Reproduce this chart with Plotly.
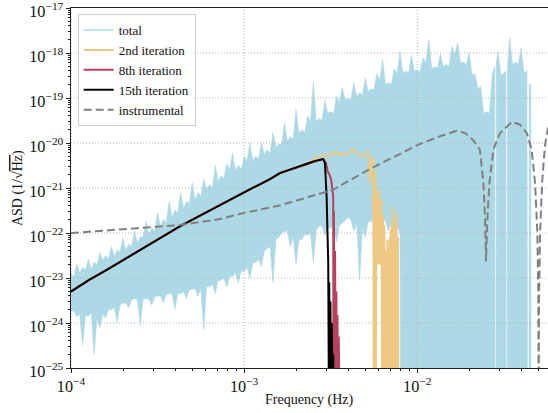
import math
import plotly.graph_objects as go

# ---------------- data ----------------
X_TICKS = [1e-4, 1e-3, 1e-2]
Y_TICKS = [1e-25, 1e-24, 1e-23, 1e-22, 1e-21, 1e-20, 1e-19, 1e-18, 1e-17]
X_RANGE = [1e-4, 5.69e-2]
Y_RANGE = [1e-25, 1e-17]

# "total": upper envelope of the noisy spectrum (30 samples per decade)
total_upper_freq = [
    1.000e-4, 1.080e-4, 1.166e-4, 1.259e-4, 1.359e-4, 1.468e-4, 1.585e-4, 1.711e-4, 1.848e-4, 1.995e-4,
    2.154e-4, 2.326e-4, 2.512e-4, 2.712e-4, 2.929e-4, 3.162e-4, 3.415e-4, 3.687e-4, 3.981e-4, 4.299e-4,
    4.642e-4, 5.012e-4, 5.412e-4, 5.843e-4, 6.310e-4, 6.813e-4, 7.356e-4, 7.943e-4, 8.577e-4, 9.261e-4,
    1.000e-3, 1.080e-3, 1.166e-3, 1.259e-3, 1.359e-3, 1.468e-3, 1.585e-3, 1.711e-3, 1.848e-3, 1.995e-3,
    2.154e-3, 2.326e-3, 2.512e-3, 2.712e-3, 2.929e-3, 3.162e-3, 3.415e-3, 3.687e-3, 3.981e-3, 4.299e-3,
    4.642e-3, 5.012e-3, 5.412e-3, 5.843e-3, 6.310e-3, 6.813e-3, 7.356e-3, 7.943e-3, 8.577e-3, 9.261e-3,
    1.000e-2, 1.080e-2, 1.166e-2, 1.259e-2, 1.359e-2, 1.468e-2, 1.585e-2, 1.711e-2, 1.848e-2, 1.995e-2,
    2.154e-2, 2.326e-2, 2.512e-2, 2.712e-2, 2.929e-2, 3.162e-2, 3.415e-2, 3.687e-2, 3.981e-2, 4.299e-2,
]
total_upper_asd = [
    1.3e-23, 2.1e-23, 1.7e-23, 2.6e-23, 2.2e-23, 3.6e-23, 3.2e-23, 5.0e-23, 4.2e-23, 7.6e-23,
    5.6e-23, 1.1e-22, 8.3e-23, 1.8e-22, 1.3e-22, 2.8e-22, 2.0e-22, 5.0e-22, 3.2e-22, 7.9e-22,
    5.0e-22, 1.3e-21, 7.9e-22, 1.6e-21, 1.2e-21, 3.2e-21, 1.9e-21, 3.5e-21, 6.0e-21, 3.2e-21,
    5.0e-21, 1.0e-20, 5.0e-21, 1.0e-20, 7.1e-21, 1.7e-20, 9.5e-21, 2.8e-20, 1.4e-20, 5.6e-20,
    2.0e-20, 4.0e-20, 2.2e-19, 3.5e-20, 8.9e-20, 5.0e-20, 1.1e-19, 1.7e-19, 1.0e-19, 2.2e-19,
    1.3e-19, 2.8e-19, 1.6e-19, 3.5e-19, 7.1e-19, 2.2e-19, 4.5e-19, 1.07e-18, 4.0e-19, 8.9e-19,
    4.2e-19, 7.9e-19, 2.0e-18, 5.0e-19, 9.5e-19, 5.6e-19, 1.4e-18, 1.7e-18, 6.3e-19, 1.0e-18,
    3.5e-19, 1.8e-19, 5.0e-20, 3.5e-19, 1.1e-18, 3.5e-19, 2.2e-18, 6.3e-19, 1.3e-18, 4.0e-19,
]
# dips between the upper spikes
total_upper_mid_freq = [
    1.039e-4, 1.122e-4, 1.212e-4, 1.308e-4, 1.413e-4, 1.525e-4, 1.647e-4, 1.778e-4, 1.920e-4, 2.073e-4,
    2.239e-4, 2.418e-4, 2.610e-4, 2.818e-4, 3.043e-4, 3.286e-4, 3.548e-4, 3.831e-4, 4.137e-4, 4.467e-4,
    4.823e-4, 5.208e-4, 5.623e-4, 6.072e-4, 6.556e-4, 7.079e-4, 7.644e-4, 8.254e-4, 8.913e-4, 9.624e-4,
    1.039e-3, 1.122e-3, 1.212e-3, 1.308e-3, 1.413e-3, 1.525e-3, 1.647e-3, 1.778e-3, 1.920e-3, 2.073e-3,
    2.239e-3, 2.418e-3, 2.610e-3, 2.818e-3, 3.043e-3, 3.286e-3, 3.548e-3, 3.831e-3, 4.137e-3, 4.467e-3,
    4.823e-3, 5.208e-3, 5.623e-3, 6.072e-3, 6.556e-3, 7.079e-3, 7.644e-3, 8.254e-3, 8.913e-3, 9.624e-3,
    1.039e-2, 1.122e-2, 1.212e-2, 1.308e-2, 1.413e-2, 1.525e-2, 1.647e-2, 1.778e-2, 1.920e-2, 2.073e-2,
    2.239e-2, 2.418e-2, 2.610e-2, 3.043e-2, 3.548e-2, 3.831e-2, 4.137e-2,
]
total_upper_mid_asd = [
    1.0e-23, 1.3e-23, 1.5e-23, 1.6e-23, 2.0e-23, 2.4e-23, 2.6e-23, 3.0e-23, 3.8e-23, 4.0e-23,
    5.0e-23, 6.0e-23, 8.0e-23, 9.0e-23, 1.1e-22, 1.4e-22, 1.7e-22, 2.2e-22, 2.8e-22, 3.5e-22,
    4.5e-22, 5.5e-22, 6.5e-22, 9.0e-22, 1.0e-21, 1.4e-21, 1.6e-21, 2.5e-21, 2.4e-21, 2.6e-21,
    4.0e-21, 4.0e-21, 4.5e-21, 5.5e-21, 6.0e-21, 8.0e-21, 9.0e-21, 1.1e-20, 1.2e-20, 1.6e-20,
    1.7e-20, 3.0e-20, 3.0e-20, 3.2e-20, 4.5e-20, 4.5e-20, 8.0e-20, 9.0e-20, 9.0e-20, 1.1e-19,
    1.2e-19, 1.4e-19, 1.5e-19, 2.5e-19, 2.0e-19, 2.0e-19, 3.5e-19, 3.5e-19, 3.6e-19, 4.0e-19,
    3.8e-19, 6.0e-19, 4.5e-19, 4.5e-19, 5.0e-19, 5.0e-19, 9.0e-19, 6.0e-19, 5.5e-19, 3.2e-19,
    1.6e-19, 4.5e-20, 4.5e-20, 3.2e-19, 5.5e-19, 5.5e-19, 3.5e-19,
]
# gaps (white lines) and the ragged end of the "total" spectrum
total_gap_freq = [2.803e-2, 2.812e-2, 2.850e-2, 2.861e-2,
                  3.251e-2, 3.265e-2, 3.309e-2, 3.322e-2,
                  4.335e-2, 4.423e-2, 4.434e-2, 4.530e-2, 4.542e-2]
total_gap_asd = [5.0e-19, 1e-27, 1e-27, 6.0e-19,
                 4.0e-19, 1e-27, 1e-27, 5.0e-19,
                 1e-27, 1e-27, 2.0e-19, 2.0e-19, 1e-27]
# "total": lower envelope
total_lower_freq = total_upper_freq[:58] + [8.05e-3, 4.542e-2]
total_lower_asd = [
    1.8e-24, 1.4e-24, 3.2e-25, 1.4e-24, 2.0e-25, 7.9e-25, 1.3e-24, 2.0e-24, 1.0e-24, 2.8e-24,
    2.2e-24, 3.5e-24, 8.9e-25, 3.5e-24, 2.5e-24, 4.0e-24, 2.8e-24, 4.5e-24, 2.0e-24, 4.5e-24,
    3.5e-24, 5.6e-24, 4.0e-24, 7.1e-25, 6.3e-24, 4.5e-24, 8.9e-24, 6.3e-24, 1.1e-23, 7.9e-24,
    1.4e-23, 1.0e-23, 2.2e-23, 1.8e-23, 4.5e-23, 7.9e-24, 7.9e-23, 1.1e-22, 5.0e-23, 2.0e-23,
    7.1e-23, 8.9e-23, 2.2e-23, 1.4e-22, 8.9e-23, 1.3e-22, 6.3e-23, 1.6e-22, 2.2e-22, 1.1e-22,
    8.9e-24, 7.9e-23, 1.8e-22, 1.3e-22, 2.0e-22, 1.1e-22, 1.3e-22, 1.0e-22,
    1e-27, 1e-27,
]
total_lower_mid_freq = total_upper_mid_freq[:57]
total_lower_mid_asd = [
    1.9e-24, 1.6e-24, 1.5e-24, 1.7e-24, 1.3e-24, 1.6e-24, 2.0e-24, 2.2e-24, 2.5e-24, 2.8e-24,
    3.2e-24, 3.3e-24, 3.5e-24, 3.4e-24, 3.8e-24, 4.0e-24, 4.3e-24, 4.4e-24, 4.6e-24, 5.0e-24,
    5.5e-24, 5.8e-24, 5.8e-24, 6.5e-24, 7.3e-24, 8.8e-24, 1.0e-23, 1.1e-23, 1.3e-23, 1.45e-23,
    1.75e-23, 2.2e-23, 2.6e-23, 4.0e-23, 5.0e-23, 7.3e-23, 1.0e-22, 1.1e-22, 8.0e-23, 7.3e-23,
    9.5e-23, 1.0e-22, 1.15e-22, 1.45e-22, 1.3e-22, 1.4e-22, 1.45e-22, 1.9e-22, 2.0e-22, 1.6e-22,
    1.3e-22, 1.75e-22, 1.9e-22, 1.75e-22, 1.9e-22, 1.6e-22, 1.45e-22,
]

# 2nd iteration
second_freq = [
    1.0e-4, 1.28e-4, 1.6e-4, 2.0e-4, 2.5e-4, 3.2e-4, 4.25e-4, 5.6e-4, 7.5e-4, 1.0e-3,
    1.2e-3, 1.41e-3, 1.61e-3, 1.85e-3, 2.1e-3, 2.3e-3, 2.5e-3, 2.62e-3, 2.86e-3, 3.0e-3,
    3.13e-3, 3.25e-3, 3.42e-3, 3.57e-3, 3.73e-3, 3.91e-3, 4.05e-3, 4.18e-3, 4.37e-3, 4.56e-3,
    4.77e-3, 4.98e-3, 5.21e-3, 5.28e-3, 5.45e-3, 5.57e-3, 5.605e-3, 5.64e-3, 5.68e-3, 5.72e-3,
    5.76e-3, 5.80e-3, 5.84e-3, 5.87e-3, 5.91e-3, 6.01e-3, 6.05e-3, 6.09e-3, 6.15e-3, 6.22e-3,
    6.27e-3, 6.36e-3, 6.40e-3, 6.455e-3, 6.50e-3, 6.55e-3, 6.60e-3, 6.64e-3, 6.72e-3, 6.77e-3,
    6.82e-3, 6.87e-3, 6.93e-3, 6.98e-3, 7.04e-3, 7.09e-3, 7.15e-3, 7.21e-3, 7.27e-3, 7.35e-3,
    7.43e-3, 7.49e-3, 7.55e-3, 7.60e-3, 7.66e-3, 7.73e-3, 7.79e-3,
]
second_asd = [
    5.0e-24, 9.2e-24, 1.5e-23, 2.5e-23, 4.25e-23, 7.4e-23, 1.4e-22, 2.45e-22, 4.5e-22, 7.9e-22,
    1.15e-21, 1.58e-21, 2.15e-21, 2.55e-21, 3.0e-21, 3.45e-21, 4.1e-21, 4.9e-21, 5.2e-21, 5.0e-21,
    5.8e-21, 5.4e-21, 6.5e-21, 5.5e-21, 6.0e-21, 5.5e-21, 6.2e-21, 6.5e-21, 7.1e-21, 5.5e-21,
    5.0e-21, 5.5e-21, 6.5e-21, 1.3e-21, 4.6e-21, 4.25e-21, 1e-26, 1.3e-21, 1e-26, 2.3e-21,
    1e-26, 8e-22, 2e-23, 6.5e-22, 2e-23, 1e-21, 2e-23, 1.67e-22, 2e-23, 5.5e-22,
    1e-26, 2.55e-22, 1e-26, 1.5e-22, 1e-26, 4e-23, 1e-26, 1e-26, 7e-23, 1e-26,
    5e-23, 1e-26, 8e-23, 1e-26, 1.2e-22, 1e-26, 2e-22, 4e-22, 1e-26, 1.2e-22,
    1.67e-22, 1e-26, 1.5e-22, 2.8e-22, 1e-26, 8e-23, 1e-26,
]

# 8th iteration
eighth_freq = [
    1.0e-4, 1.28e-4, 1.6e-4, 2.0e-4, 2.5e-4, 3.2e-4, 4.25e-4, 5.6e-4, 7.5e-4, 1.0e-3,
    1.2e-3, 1.41e-3, 1.61e-3, 1.85e-3, 2.1e-3, 2.3e-3, 2.51e-3, 2.7e-3, 2.86e-3, 2.967e-3,
    3.042e-3, 3.11e-3, 3.18e-3, 3.27e-3, 3.28e-3, 3.30e-3, 3.31e-3, 3.33e-3, 3.34e-3, 3.35e-3,
    3.36e-3, 3.38e-3, 3.39e-3, 3.41e-3, 3.42e-3, 3.43e-3, 3.44e-3, 3.46e-3, 3.47e-3, 3.49e-3,
    3.50e-3, 3.52e-3, 3.53e-3, 3.55e-3, 3.56e-3,
]
eighth_asd = [
    5.0e-24, 9.2e-24, 1.5e-23, 2.5e-23, 4.25e-23, 7.4e-23, 1.4e-22, 2.45e-22, 4.5e-22, 7.9e-22,
    1.15e-21, 1.58e-21, 2.15e-21, 2.55e-21, 3.0e-21, 3.45e-21, 3.9e-21, 4.15e-21, 4.4e-21, 3.65e-21,
    2.34e-21, 2.0e-21, 1.53e-21, 6.5e-22, 1e-26, 3e-22, 1e-26, 1e-22, 1e-26, 4e-23,
    1e-26, 1.2e-23, 1e-26, 5e-24, 1e-26, 3e-24, 1e-26, 1.5e-24, 1e-26, 6e-25,
    1e-26, 5e-25, 1e-26, 3e-25, 1e-26,
]

# 15th iteration
fifteenth_freq = [
    1.0e-4, 1.28e-4, 1.6e-4, 2.0e-4, 2.5e-4, 3.2e-4, 4.25e-4, 5.6e-4, 7.5e-4, 1.0e-3,
    1.2e-3, 1.41e-3, 1.61e-3, 1.85e-3, 2.1e-3, 2.3e-3, 2.51e-3, 2.7e-3, 2.86e-3, 2.93e-3,
    2.995e-3, 3.06e-3, 3.07e-3, 3.08e-3, 3.09e-3, 3.10e-3, 3.11e-3, 3.12e-3, 3.13e-3, 3.15e-3,
    3.16e-3, 3.18e-3, 3.19e-3, 3.21e-3, 3.22e-3, 3.24e-3, 3.25e-3, 3.27e-3, 3.28e-3,
]
fifteenth_asd = [
    5.0e-24, 9.2e-24, 1.5e-23, 2.5e-23, 4.25e-23, 7.4e-23, 1.4e-22, 2.45e-22, 4.5e-22, 7.9e-22,
    1.15e-21, 1.58e-21, 2.15e-21, 2.6e-21, 3.0e-21, 3.45e-21, 3.9e-21, 4.15e-21, 4.4e-21, 3.6e-21,
    6.5e-22, 2.2e-23, 1e-26, 1.5e-23, 1e-26, 8e-24, 1e-26, 5e-24, 1e-26, 3e-24,
    1e-26, 1.2e-24, 1e-26, 1e-24, 1e-26, 5e-25, 1e-26, 2e-25, 1e-26,
]

# instrumental noise
instr_freq = [
    1.0e-4, 2.5e-4, 4.25e-4, 7.24e-4, 1.0e-3, 1.61e-3, 3.26e-3, 5.33e-3, 9.06e-3, 1.035e-2,
    1.352e-2, 1.69e-2, 1.886e-2, 2.10e-2, 2.30e-2, 2.41e-2, 2.46e-2, 2.494e-2, 2.545e-2, 2.61e-2,
    2.75e-2, 3.006e-2, 3.526e-2, 3.92e-2, 4.29e-2, 4.58e-2, 4.79e-2, 4.94e-2, 5.005e-2, 5.025e-2,
    5.05e-2, 5.12e-2, 5.26e-2, 5.47e-2, 5.69e-2,
]
instr_asd = [
    1.0e-22, 1.29e-22, 1.5e-22, 2.04e-22, 2.8e-22, 4.1e-22, 9.1e-22, 2.65e-21, 7.4e-21, 9.5e-21,
    1.41e-20, 1.86e-20, 1.67e-20, 1.17e-20, 7.1e-21, 1.29e-21, 2.34e-22, 2.34e-23, 2.34e-22, 1.29e-21,
    7.1e-21, 1.67e-20, 2.95e-20, 2.55e-20, 1.67e-20, 7.1e-21, 1.29e-21, 1.0e-22, 3.3e-24, 1e-26,
    3.3e-24, 1.0e-22, 1.29e-21, 9.1e-21, 2.2e-20,
]

# ---------------- styling ----------------
BLUE = "#ADD8E6"
YELLOW = "#EFC983"
RED = "#B7405F"
BLACK = "#000000"
GREY = "#808080"
GRID = "#b5b5b5"
FONT = "Liberation Serif"

fig = go.Figure()

# total: filled between upper and lower envelopes
up = sorted(zip(total_upper_freq + total_upper_mid_freq + total_gap_freq,
                total_upper_asd + total_upper_mid_asd + total_gap_asd))
lo = sorted(zip(total_lower_freq + total_lower_mid_freq,
                total_lower_asd + total_lower_mid_asd))
poly_x = [p[0] for p in up] + [p[0] for p in lo][::-1]
poly_y = [p[1] for p in up] + [p[1] for p in lo][::-1]
fig.add_trace(go.Scatter(x=poly_x, y=poly_y, mode="lines", fill="toself",
                         fillcolor=BLUE, line=dict(color=BLUE, width=0.6),
                         showlegend=False, hoverinfo="skip"))

# dotted grid drawn above the filled spectrum
for v in X_TICKS:
    fig.add_trace(go.Scatter(x=[v, v], y=Y_RANGE, mode="lines",
                             line=dict(color=GRID, width=1, dash="1px,2px"),
                             showlegend=False, hoverinfo="skip"))
for v in Y_TICKS[1:-1]:
    fig.add_trace(go.Scatter(x=X_RANGE, y=[v, v], mode="lines",
                             line=dict(color=GRID, width=1, dash="1px,2px"),
                             showlegend=False, hoverinfo="skip"))

# legend entry for total (line sample)
fig.add_trace(go.Scatter(x=[None], y=[None], mode="lines", name="total",
                         line=dict(color=BLUE, width=1.5)))
fig.add_trace(go.Scatter(x=second_freq, y=second_asd, mode="lines", name="2nd iteration",
                         line=dict(color=YELLOW, width=2)))
fig.add_trace(go.Scatter(x=eighth_freq, y=eighth_asd, mode="lines", name="8th iteration",
                         line=dict(color=RED, width=2)))
fig.add_trace(go.Scatter(x=fifteenth_freq, y=fifteenth_asd, mode="lines", name="15th iteration",
                         line=dict(color=BLACK, width=2)))
fig.add_trace(go.Scatter(x=instr_freq, y=instr_asd, mode="lines", name="instrumental",
                         line=dict(color=GREY, width=2, dash="8px,4px")))

axis_common = dict(
    type="log", dtick=1, exponentformat="power", showgrid=False, zeroline=False,
    ticks="outside", ticklen=4, tickwidth=1, tickcolor="#222",
    minor=dict(ticks="outside", ticklen=2, tickwidth=0.8, tickcolor="#222", showgrid=False),
    showline=True, linecolor="#222", linewidth=1.3, layer="above traces",
    tickfont=dict(family=FONT, size=13, color="#111"),
    ticklabeloverflow="allow",
    automargin=False,
)

fig.update_layout(
    width=548, height=413,
    margin=dict(l=71, r=0, t=8, b=45, pad=0),
    paper_bgcolor="white", plot_bgcolor="white",
    font=dict(family=FONT, size=14, color="#111"),
    xaxis=dict(axis_common, range=[-4, math.log10(X_RANGE[1])], mirror=True),
    yaxis=dict(axis_common, range=[-25, -17], mirror=False, ticklabelshift=3),
    legend=dict(x=0.014, y=0.983, xanchor="left", yanchor="top",
                bgcolor="rgba(255,255,255,0.85)", bordercolor="#cccccc", borderwidth=1,
                font=dict(family=FONT, size=13, color="#111"),
                tracegroupgap=0, itemwidth=30),
    showlegend=True,
    annotations=[
        dict(text="Frequency (Hz)", xref="paper", yref="paper", x=0.5, y=-0.088,
             xanchor="center", yanchor="middle", showarrow=False,
             font=dict(family=FONT, size=14, color="#111")),
        dict(text="ASD (1/\u221a<span style='text-decoration:overline'>Hz</span>)",
             xref="paper", yref="paper", x=-0.111, y=0.5, textangle=-90,
             xanchor="center", yanchor="middle", showarrow=False,
             font=dict(family=FONT, size=14, color="#111")),
    ],
)

fig.write_html("out.html", config={"displayModeBar": False},
               post_script="document.body.style.margin='0';")
